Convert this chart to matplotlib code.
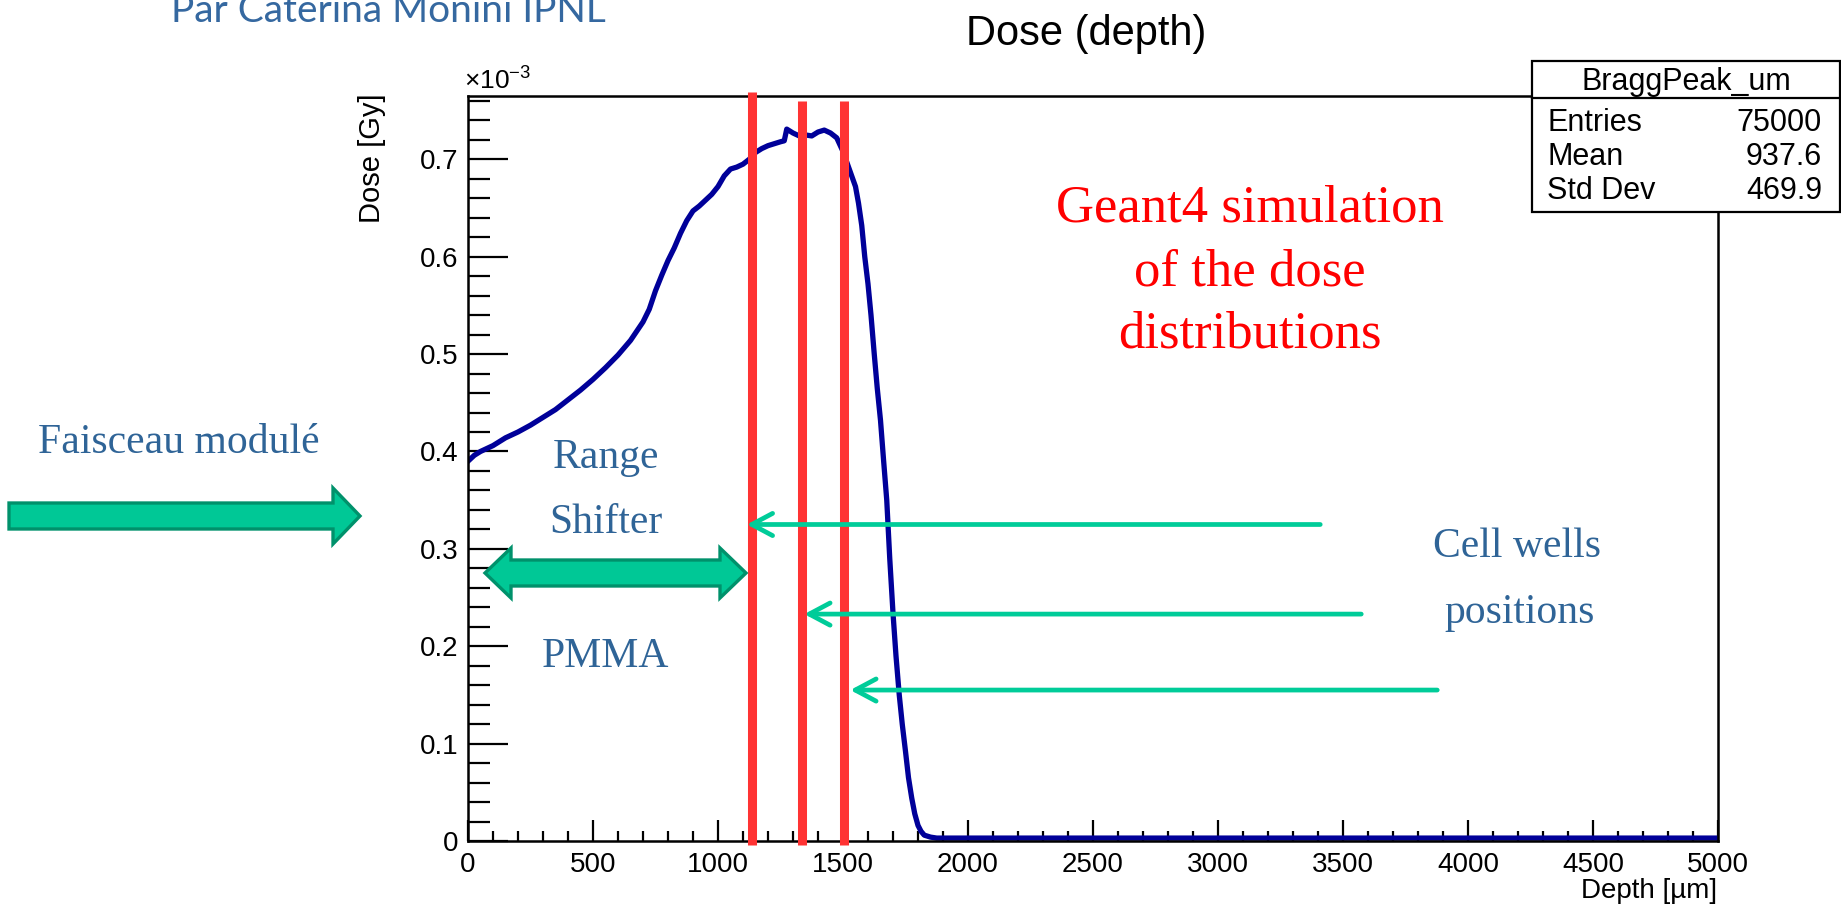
import matplotlib
matplotlib.use('Agg')
import matplotlib.pyplot as plt
from matplotlib.patches import Polygon, Rectangle, FancyArrowPatch
from matplotlib.ticker import MultipleLocator, FixedLocator, FuncFormatter

# ---------------- data ----------------
depth_um = [0, 25, 50, 100, 150, 200, 250, 300, 350, 400, 450, 500, 550, 600,
            650, 700, 725, 750, 775, 800, 825, 850, 875, 900, 925, 950, 975,
            1000, 1025, 1050, 1075, 1100, 1125, 1150, 1175, 1200, 1225, 1250,
            1265, 1275, 1300, 1325, 1350, 1375, 1400, 1425, 1450, 1475, 1500, 1525,
            1550, 1562, 1575, 1587, 1600, 1612, 1625, 1637, 1650, 1662, 1675,
            1687, 1700, 1712, 1725, 1737, 1750, 1762, 1775, 1787, 1800, 1812,
            1825, 1850, 1875, 5000]
dose_e3 = [0.390, 0.396, 0.400, 0.406, 0.414, 0.420, 0.427, 0.435, 0.443, 0.453,
           0.463, 0.474, 0.486, 0.499, 0.514, 0.533, 0.546, 0.565, 0.581, 0.596,
           0.609, 0.624, 0.637, 0.647, 0.652, 0.658, 0.664, 0.672, 0.683, 0.690,
           0.692, 0.695, 0.700, 0.707, 0.711, 0.714, 0.716, 0.718, 0.719, 0.731, 0.727,
           0.724, 0.725, 0.724, 0.728, 0.730, 0.727, 0.722, 0.708, 0.690, 0.672,
           0.655, 0.632, 0.600, 0.572, 0.540, 0.500, 0.465, 0.432, 0.392, 0.350,
           0.290, 0.234, 0.190, 0.150, 0.120, 0.092, 0.065, 0.044, 0.028, 0.016,
           0.010, 0.006, 0.004, 0.003, 0.003]

cell_well_depths = [1135, 1335, 1503]
arrow_tail_um = [3409, 3573, 3877]
arrow_tip_um = [1115, 1345, 1529]
arrow_dose = [0.325, 0.233, 0.155]

x_ticks = list(range(0, 5001, 500))
y_ticks = [0.0, 0.1, 0.2, 0.3, 0.4, 0.5, 0.6, 0.7]

title_text = "Dose (depth)"
x_label = "Depth [\u00b5m]"
y_label = "Dose [Gy]"
stats_title = "BraggPeak_um"
stats_labels = ["Entries", "Mean", "Std Dev"]
stats_values = ["75000", "937.6", "469.9"]

# ---------------- styling ----------------
plt.rcParams['font.family'] = ['Liberation Sans', 'DejaVu Sans']
plt.rcParams['mathtext.fontset'] = 'custom'
plt.rcParams['mathtext.rm'] = 'Liberation Sans'
plt.rcParams['mathtext.it'] = 'Liberation Sans:italic'

W, H = 1841, 906
fig = plt.figure(figsize=(W / 100, H / 100), dpi=100)
fig.patch.set_facecolor('white')


def fx(px):
    return px / W


def fy(py):
    return 1 - py / H


ax = fig.add_axes([fx(468), fy(841), fx(1718) - fx(468), fy(96) - fy(841)])
ax.plot(depth_um, dose_e3, color='#000099', lw=3.8, zorder=2,
        solid_joinstyle='round')
ax.set_xlim(0, 5000)
ax.set_ylim(0, 0.765)

for sp in ax.spines.values():
    sp.set_linewidth(1.8)

ax.xaxis.set_major_locator(FixedLocator(x_ticks))
ax.xaxis.set_minor_locator(MultipleLocator(100))
ax.yaxis.set_major_locator(FixedLocator(y_ticks))
ax.yaxis.set_minor_locator(MultipleLocator(0.02))
ax.yaxis.set_major_formatter(FuncFormatter(lambda v, p: '0' if abs(v) < 1e-9 else f'{v:.1f}'))
ax.xaxis.set_major_formatter(FuncFormatter(lambda v, p: f'{int(round(v))}'))
ax.tick_params(axis='y', which='major', direction='in', length=29, width=1.6,
               labelsize=20, pad=7)
ax.tick_params(axis='y', which='minor', direction='in', length=16, width=1.6)
ax.tick_params(axis='x', which='major', direction='in', length=15, width=1.6,
               labelsize=20, pad=8)
ax.tick_params(axis='x', which='minor', direction='in', length=7, width=1.6)

# red vertical lines (cell well positions)
for i, xd in enumerate(cell_well_depths):
    top = 0.769 if i == 0 else 0.760
    ax.plot([xd, xd], [-0.004, top], color='#FF3333', lw=6.5,
            solid_capstyle='butt', clip_on=False, zorder=3)

# thin green arrows
for xt, xh, yv in zip(arrow_tail_um, arrow_tip_um, arrow_dose):
    arr = FancyArrowPatch((xt, yv), (xh, yv),
                          arrowstyle='->,head_length=0.75,head_width=0.4',
                          mutation_scale=20, lw=3.4, color='#00CC99',
                          shrinkA=0, shrinkB=0, clip_on=False, zorder=4)
    ax.add_patch(arr)

# ---------------- texts ----------------
fig.text(fx(1086), fy(45), title_text, ha='center', va='baseline', fontsize=30)
fig.text(fx(1717), fy(898), x_label, ha='right', va='baseline', fontsize=20)
fig.text(fx(372), fy(93), y_label, ha='center', va='top', rotation=90, fontsize=21)
fig.text(fx(464), fy(90), r'$\times10^{-3}$', ha='left', va='baseline', fontsize=19)

fig.text(fx(388), fy(22), 'Par Caterina Monini IPNL', ha='center', va='baseline',
         fontsize=28, color='#3568A0', family=['Lato', 'DejaVu Sans'])

serif = ['Liberation Serif', 'DejaVu Serif']
blue = '#2F6497'
fig.text(fx(179), fy(453), 'Faisceau modulé', ha='center', va='baseline',
         fontsize=30, color=blue, family=serif)
fig.text(fx(606), fy(468), 'Range', ha='center', va='baseline',
         fontsize=30, color=blue, family=serif)
fig.text(fx(606), fy(533), 'Shifter', ha='center', va='baseline',
         fontsize=30, color=blue, family=serif)
fig.text(fx(605), fy(667), 'PMMA', ha='center', va='baseline',
         fontsize=30, color=blue, family=serif)
fig.text(fx(1517), fy(557), 'Cell wells', ha='center', va='baseline',
         fontsize=30, color=blue, family=serif)
fig.text(fx(1520), fy(623), 'positions', ha='center', va='baseline',
         fontsize=30, color=blue, family=serif)

for line, base in zip(['Geant4 simulation', 'of the dose', 'distributions'],
                      [222, 285, 347]):
    fig.text(fx(1250), fy(base), line, ha='center', va='baseline',
             fontsize=38, color='#FF0000', family=serif)


# ---------------- block arrows ----------------
def single_arrow(x0, x1, yc, hs, hh, hl):
    pts = [(x0, yc - hs), (x1 - hl, yc - hs), (x1 - hl, yc - hh), (x1, yc),
           (x1 - hl, yc + hh), (x1 - hl, yc + hs), (x0, yc + hs)]
    return [(fx(a), fy(b)) for a, b in pts]


def double_arrow(x0, x1, yc, hs, hh, hl):
    pts = [(x0, yc), (x0 + hl, yc - hh), (x0 + hl, yc - hs), (x1 - hl, yc - hs),
           (x1 - hl, yc - hh), (x1, yc), (x1 - hl, yc + hh), (x1 - hl, yc + hs),
           (x0 + hl, yc + hs), (x0 + hl, yc + hh)]
    return [(fx(a), fy(b)) for a, b in pts]


fill_green = '#00C896'
edge_green = '#00916B'
fig.add_artist(Polygon(single_arrow(9, 360, 516, 13, 28, 27), closed=True,
                       transform=fig.transFigure, facecolor=fill_green,
                       edgecolor=edge_green, lw=2.4, joinstyle='miter', zorder=5))
fig.add_artist(Polygon(double_arrow(485, 746, 573, 13, 25, 26), closed=True,
                       transform=fig.transFigure, facecolor=fill_green,
                       edgecolor=edge_green, lw=2.4, joinstyle='miter', zorder=5))

# ---------------- stats box ----------------
bx0, bx1, by0, by1, bsep = 1532, 1840, 61, 212, 98
fig.add_artist(Rectangle((fx(bx0), fy(by1)), fx(bx1) - fx(bx0), fy(by0) - fy(by1),
                         transform=fig.transFigure, facecolor='white',
                         edgecolor='black', lw=1.6, zorder=6))
fig.add_artist(plt.Line2D([fx(bx0), fx(bx1)], [fy(bsep), fy(bsep)],
                          transform=fig.transFigure, color='black', lw=1.6, zorder=7))
fig.text(fx(1686), fy(90), stats_title, ha='center', va='baseline', fontsize=22, zorder=8)
for lab, val, base in zip(stats_labels, stats_values, [131, 165, 199]):
    fig.text(fx(1547), fy(base), lab, ha='left', va='baseline', fontsize=22, zorder=8)
    fig.text(fx(1822), fy(base), val, ha='right', va='baseline', fontsize=22, zorder=8)

fig.savefig('out.png', dpi=100, facecolor='white')
